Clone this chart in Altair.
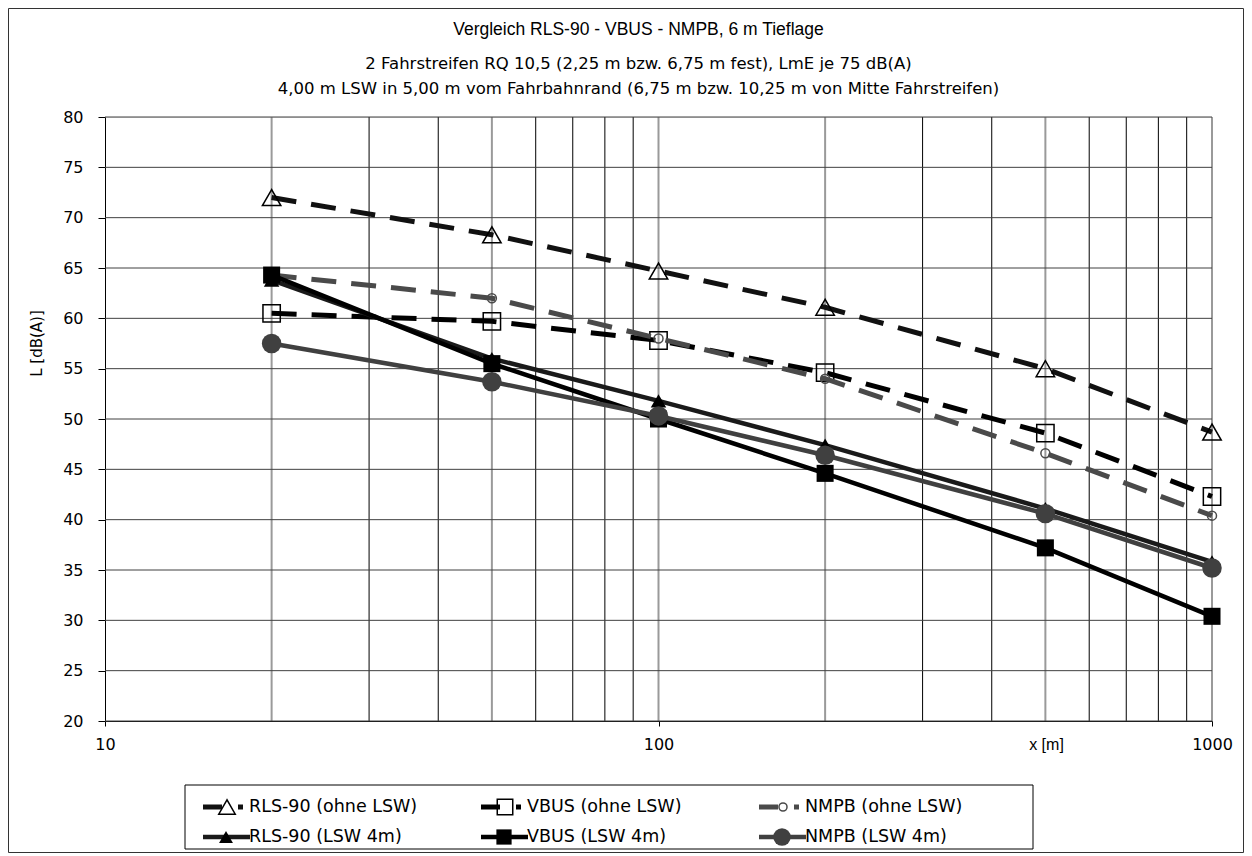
import altair as alt
import pandas as pd

# ---------------- data ----------------
x_m = [20, 50, 100, 200, 500, 1000]
rls_ohne = [72.0, 68.3, 64.7, 61.1, 55.0, 48.7]
vbus_ohne = [60.5, 59.7, 57.8, 54.6, 48.6, 42.3]
nmpb_ohne = [64.3, 62.0, 58.0, 54.0, 46.6, 40.4]
rls_lsw = [63.8, 56.0, 51.8, 47.4, 41.1, 35.8]
vbus_lsw = [64.3, 55.5, 50.0, 44.6, 37.2, 30.4]
nmpb_lsw = [57.5, 53.7, 50.3, 46.4, 40.6, 35.2]

series_names = ["RLS-90 (ohne LSW)", "VBUS (ohne LSW)", "NMPB (ohne LSW)",
                "RLS-90 (LSW 4m)", "VBUS (LSW 4m)", "NMPB (LSW 4m)"]
series_values = [rls_ohne, vbus_ohne, nmpb_ohne, rls_lsw, vbus_lsw, nmpb_lsw]

x_tick_values = [10, 100, 1000]
y_tick_values = [20, 25, 30, 35, 40, 45, 50, 55, 60, 65, 70, 75, 80]
x_minor_grid = [30, 40, 60, 70, 80, 90, 300, 400, 600, 700, 800, 900]
x_point_grid = [20, 50, 100, 200, 500, 1000]

legend_col = [0, 1, 2, 0, 1, 2]
legend_row = [0, 0, 0, 1, 1, 1]

title_text = "Vergleich RLS-90 - VBUS - NMPB,  6 m Tieflage"
subtitle_lines = [
    "2 Fahrstreifen RQ 10,5 (2,25 m bzw. 6,75 m fest), LmE je 75 dB(A)",
    "4,00 m LSW in 5,00 m vom Fahrbahnrand (6,75 m bzw. 10,25 m von Mitte Fahrstreifen)",
]

# ---------------- styles ----------------
FONT = "Liberation Sans"
WIDE = "DejaVu Sans"
DASH = [25, 15]
styles = [
    dict(color="#111111", dash=DASH, width=5, shape="triangle-up", size=340, filled=False, mcolor="#000000"),
    dict(color="#000000", dash=DASH, width=5, shape="square", size=300, filled=False, mcolor="#000000"),
    dict(color="#4a4a4a", dash=DASH, width=5, shape="circle", size=81, filled=False, mcolor="#4a4a4a"),
    dict(color="#1a1a1a", dash=None, width=4.5, shape="triangle-up", size=240, filled=True, mcolor="#000000"),
    dict(color="#000000", dash=None, width=4.5, shape="square", size=290, filled=True, mcolor="#000000"),
    dict(color="#404040", dash=None, width=4.5, shape="circle", size=380, filled=True, mcolor="#404040"),
]

W, H = 1107, 604

x_scale = alt.Scale(type="log", domain=[10, 1000])
y_scale = alt.Scale(domain=[20, 80], nice=False, zero=False)

x_axis = alt.Axis(values=x_tick_values, format="d", grid=False, labelFlush=False,
                  tickSize=5, tickColor="black", domainColor="black", labelPadding=10,
                  labelFontSize=16, labelColor="black", labelFont=WIDE,
                  title="x [m]", titleFont=FONT, titleFontSize=16, titleFontWeight="normal",
                  titleColor="black", titleX=941, titleY=15, titleBaseline="top",
                  titleAlign="center", labelOverlap=False)
y_axis = alt.Axis(values=y_tick_values, grid=False, tickSize=7, tickColor="black",
                  domainColor="black", labelPadding=15, labelFontSize=16,
                  labelColor="black", labelFont=WIDE, title="L [dB(A)]",
                  titleFont=WIDE, titleFontSize=15, titleFontWeight="normal",
                  titleColor="black", titleX=-69, titleY=226, titleAngle=270,
                  titleAlign="center", titleBaseline="middle", labelOverlap=False)


def X(field="x:Q"):
    return alt.X(field, scale=x_scale, axis=x_axis)


def Y(field="L:Q"):
    return alt.Y(field, scale=y_scale, axis=y_axis)


# grid lines
grid_minor = alt.Chart(pd.DataFrame({"x": x_minor_grid})).mark_rule(
    color="#000000", strokeWidth=1).encode(x=X())
grid_points = alt.Chart(pd.DataFrame({"x": x_point_grid})).mark_rule(
    color="#9a9a9a", strokeWidth=2).encode(x=X())
grid_h = alt.Chart(pd.DataFrame({"L": y_tick_values})).mark_rule(
    color="#404040", strokeWidth=1).encode(y=Y())

main_layers = [grid_minor, grid_points, grid_h]
for name, vals, s in zip(series_names, series_values, styles):
    df = pd.DataFrame({"x": x_m, "L": vals, "Reihe": name})
    line_kwargs = dict(color=s["color"], strokeWidth=s["width"])
    if s["dash"]:
        line_kwargs["strokeDash"] = s["dash"]
    line = alt.Chart(df).mark_line(**line_kwargs).encode(x=X(), y=Y())
    if s["filled"]:
        pt = alt.Chart(df).mark_point(shape=s["shape"], size=s["size"], filled=True,
                                      color=s["mcolor"], opacity=1, strokeWidth=0)
    else:
        pt = alt.Chart(df).mark_point(shape=s["shape"], size=s["size"], filled=False,
                                      color=s["mcolor"], opacity=1, strokeWidth=1.5)
    main_layers += [line, pt.encode(x=X(), y=Y())]

main = alt.layer(*main_layers)

# ---------------- legend (own scales) ----------------
lx = alt.Scale(domain=[0, 2], range=[98, 654])
ly = alt.Scale(domain=[0, 1], range=[690, 720])
LX = alt.X("col:Q", scale=lx, axis=None)
LY = alt.Y("row:Q", scale=ly, axis=None)

leg_df = pd.DataFrame({"col": legend_col, "row": legend_row, "label": series_names})

legend_box = alt.Chart(pd.DataFrame({"a": [0]})).mark_rect(
    fill="white", stroke="black", strokeWidth=1).encode(
    x=alt.value(80), x2=alt.value(928), y=alt.value(668), y2=alt.value(732))

legend_layers = [legend_box]
for i, s in enumerate(styles):
    d = leg_df.iloc[[i]]
    rk = dict(color=s["color"], strokeWidth=s["width"], x2Offset=47)
    if s["dash"]:
        rk["strokeDash"] = [19, 16, 5, 60]
    rule = alt.Chart(d).mark_rule(**rk).encode(x=LX, x2="col:Q", y=LY)
    if s["filled"]:
        lp = alt.Chart(d).mark_point(shape=s["shape"], size=s["size"] * 0.8, filled=True,
                                     color=s["mcolor"], opacity=1, strokeWidth=0, xOffset=23)
    else:
        lp = alt.Chart(d).mark_point(shape=s["shape"], size=s["size"] * 0.8, filled=False,
                                     color=s["mcolor"], opacity=1, strokeWidth=1.5, xOffset=24)
    legend_layers += [rule, lp.encode(x=LX, y=LY)]

leg_text = alt.Chart(leg_df).mark_text(align="left", baseline="middle", xOffset=46,
                                       font=WIDE, fontSize=17.5, color="black").encode(
    x=LX, y=LY, text="label:N")
legend_layers.append(leg_text)
legend = alt.layer(*legend_layers)

# outer frame
frame = alt.Chart(pd.DataFrame({"a": [0]})).mark_rect(
    fill=None, stroke="#333333", strokeWidth=1).encode(
    x=alt.value(-96.5), x2=alt.value(1138.5), y=alt.value(-108.5), y2=alt.value(735.5))

chart = alt.layer(main, legend, frame).resolve_scale(
    x="independent", y="independent"
).properties(
    width=W, height=H,
    autosize=alt.AutoSizeParams(type="none"),
    padding={"left": 97, "top": 109, "right": 32, "bottom": 133},
    title=alt.TitleParams(
        text=title_text, subtitle=subtitle_lines, anchor="middle", frame="group",
        dx=-20, offset=-89, font=FONT, fontSize=17.5, fontWeight="normal", color="black",
        subtitleFont=WIDE, subtitleFontSize=16.5, subtitleColor="black",
        subtitlePadding=17, subtitleLineHeight=25),
).configure_view(stroke=None).configure(font=FONT, background="white")

chart.save("out.html", embed_options={"renderer": "svg", "actions": False})
